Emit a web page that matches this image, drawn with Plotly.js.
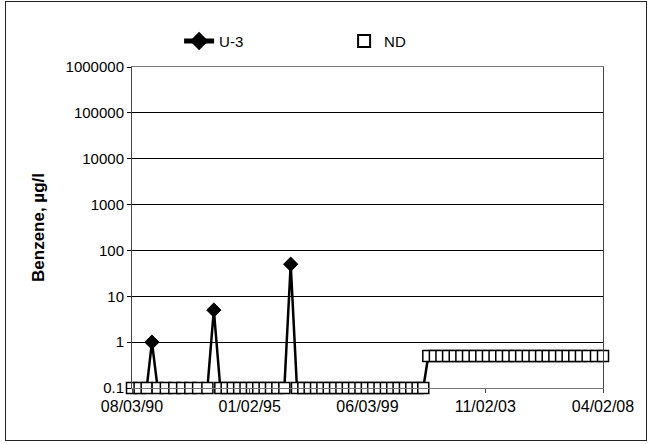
<!DOCTYPE html>
<html>
<head>
<meta charset="utf-8">
<script src="https://cdn.plot.ly/plotly-3.0.1.min.js"></script>
<style>
  html, body { margin: 0; padding: 0; background: #fff; }
  #chart { position: absolute; left: 0; top: 0; width: 648px; height: 444px; }
  #frame { position: absolute; left: 5px; top: 1px; width: 640px; height: 438px;
           border: 1px solid #222; pointer-events: none; }
</style>
</head>
<body>
<div id="chart"></div>
<div id="frame"></div>
<script>
// ---- data ----
const u3Dates = [
  "1990-08-03","1990-11-15","1991-02-20","1991-05-03","1991-07-20","1991-11-10",
  "1992-03-05","1992-06-20","1992-10-10","1993-01-25","1993-06-01","1993-08-28",
  "1993-11-25","1994-02-20","1994-05-15","1994-08-10","1994-11-05","1995-02-01",
  "1995-04-28","1995-07-25","1995-10-20","1996-01-15","1996-04-20","1996-07-16",
  "1996-10-10","1997-01-05","1997-04-02","1997-06-28","1997-09-23","1997-12-19",
  "1998-03-16","1998-06-11","1998-09-06","1998-12-02","1999-02-27","1999-05-25",
  "1999-08-20","1999-11-15","2000-02-10","2000-05-07","2000-08-02","2000-10-28",
  "2001-01-23","2001-04-20","2001-07-06",
  "2001-09-13","2001-12-12","2002-03-12","2002-06-11","2002-09-10","2002-12-10",
  "2003-03-11","2003-06-10","2003-09-09","2003-12-09","2004-03-09","2004-06-08",
  "2004-09-08","2004-12-07","2005-03-08","2005-06-07","2005-09-07","2005-12-06",
  "2006-03-07","2006-06-06","2006-09-06","2006-12-05","2007-03-06","2007-06-05",
  "2007-09-05","2007-12-28","2008-04-02"
];
// detected results (U-3 values above detection)
const detectedDates  = ["1991-05-03", "1993-08-28", "1996-07-16"];
const detectedValues = [1, 5, 50];
// detection limits used for non-detects
const ndLimitEarly = 0.1;   // through mid-2001
const ndLimitLate  = 0.5;   // from late 2001
const ndLimitChange = "2001-08-01";

const xTickVals = ["1990-08-03","1995-01-02","1999-06-03","2003-11-02","2008-04-02"];
const xTickText = ["08/03/90","01/02/95","06/03/99","11/02/03","04/02/08"];
const yTickVals = [0.1, 1, 10, 100, 1000, 10000, 100000, 1000000];
const yTickText = ["0.1","1","10","100","1000","10000","100000","1000000"];

// ---- build series ----
const ndDates = u3Dates.filter(d => !detectedDates.includes(d));
const ndValues = ndDates.map(d => d < ndLimitChange ? ndLimitEarly : ndLimitLate);
const u3Values = u3Dates.map(d => {
  const i = detectedDates.indexOf(d);
  return i >= 0 ? detectedValues[i] : (d < ndLimitChange ? ndLimitEarly : ndLimitLate);
});
const u3MarkerSize = u3Dates.map(d => detectedDates.includes(d) ? 11 : 0);

const font = "Liberation Sans, Arial, sans-serif";

const traces = [
  {
    x: u3Dates, y: u3Values, name: "U-3", type: "scatter", mode: "lines+markers",
    line: { color: "#000", width: 2.5 },
    marker: { symbol: "diamond", color: "#000", opacity: 1, size: u3MarkerSize,
              line: { color: "#000", width: 1 } },
    cliponaxis: false
  },
  {
    x: ndDates, y: ndValues, name: "ND", type: "scatter", mode: "markers",
    marker: { symbol: "square", color: "#fff", opacity: 1, size: 11, line: { color: "#000", width: 1.5 } },
    cliponaxis: false
  }
];

const layout = {
  width: 648, height: 444,
  margin: { l: 132, r: 45, t: 67, b: 56 },
  paper_bgcolor: "#fff", plot_bgcolor: "#fff",
  font: { family: font, size: 15, color: "#000" },
  showlegend: true,
  legend: {
    orientation: "h", x: 0.1, xanchor: "left", y: 1.08, yanchor: "middle",
    font: { family: font, size: 15, color: "#000" },
    itemsizing: "constant", entrywidth: 120, bgcolor: "rgba(0,0,0,0)"
  },
  xaxis: {
    type: "date",
    range: ["1990-08-03", "2008-04-02"],
    tickvals: xTickVals, ticktext: xTickText,
    showgrid: false, zeroline: false,
    showline: true, linecolor: "#777", linewidth: 1, mirror: true,
    ticks: "outside", ticklen: 4, tickcolor: "#444",
    tickfont: { family: font, size: 16, color: "#000" }
  },
  yaxis: {
    type: "log", range: [-1, 6],
    tickvals: yTickVals, ticktext: yTickText,
    showgrid: true, gridcolor: "#000", gridwidth: 1,
    zeroline: false,
    showline: true, linecolor: "#444", linewidth: 1, mirror: true,
    ticks: "outside", ticklen: 4, tickcolor: "#000",
    tickfont: { family: font, size: 15, color: "#000" },
    title: { text: "<b>Benzene, µg/l</b>", font: { family: font, size: 17, color: "#000" }, standoff: 16 }
  }
};

Plotly.newPlot("chart", traces, layout, { staticPlot: true, displayModeBar: false });
</script>
</body>
</html>
